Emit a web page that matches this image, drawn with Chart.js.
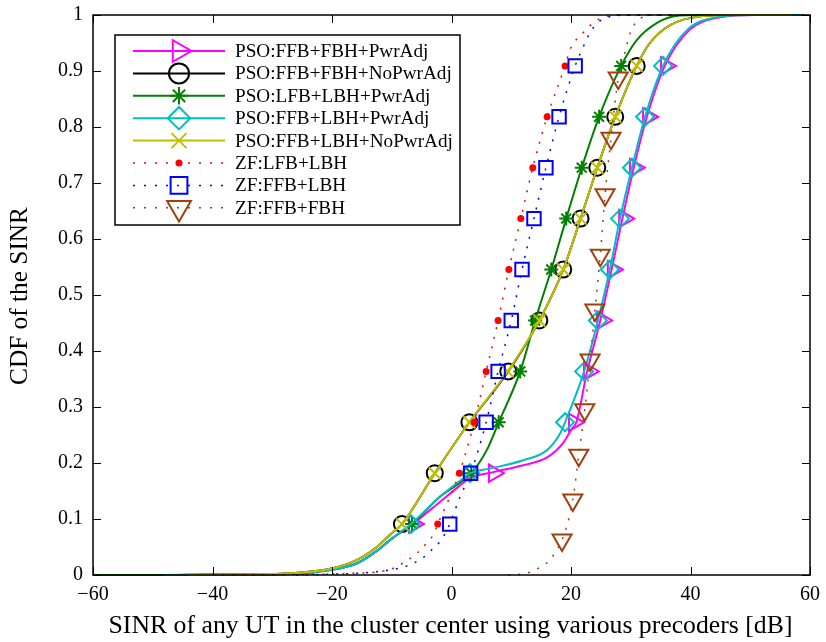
<!DOCTYPE html>
<html>
<head>
<meta charset="utf-8">
<script src="https://cdn.jsdelivr.net/npm/chart.js@4/dist/chart.umd.min.js"></script>
<style>
html,body{margin:0;padding:0;background:#ffffff;}
#wrap{width:826px;height:642px;position:relative;}
</style>
</head>
<body>
<div id="wrap"><canvas id="c" width="826" height="642"></canvas></div>
<script>
// ---------------- data ----------------
const SERIES_NAMES = [
  'PSO:FFB+FBH+PwrAdj',
  'PSO:FFB+FBH+NoPwrAdj',
  'PSO:LFB+LBH+PwrAdj',
  'PSO:FFB+LBH+PwrAdj',
  'PSO:FFB+LBH+NoPwrAdj',
  'ZF:LFB+LBH',
  'ZF:FFB+LBH',
  'ZF:FFB+FBH'
];
const X_TICKS = [-60, -40, -20, 0, 20, 40, 60];
const X_TICK_LABELS = ['\u221260', '\u221240', '\u221220', '0', '20', '40', '60'];
const Y_TICKS = [0, 0.1, 0.2, 0.3, 0.4, 0.5, 0.6, 0.7, 0.8, 0.9, 1];
const Y_TICK_LABELS = ['0', '0.1', '0.2', '0.3', '0.4', '0.5', '0.6', '0.7', '0.8', '0.9', '1'];
const X_TITLE = 'SINR of any UT in the cluster center using various precoders [dB]';
const Y_TITLE = 'CDF of the SINR';

// CDF levels where markers sit
const MARK_LEVELS = [0.0909, 0.1818, 0.2727, 0.3636, 0.4545, 0.5455, 0.6364, 0.7273, 0.8182, 0.9091];

// PSO:FFB+FBH+PwrAdj (magenta)
const magentaCurveX = [-46, -40, -27, -20.3, -15.8, -12.5, -10, -6.5, -2, 1.0, 3.1, 7.1, 12.0, 16.0, 18.7, 20.2, 20.9, 22.7, 24.9, 26.8, 28.6, 30.5, 32.7, 35.7, 39.8, 45, 51, 58];
const magentaCurveY = [0, 0.001, 0.002, 0.009, 0.021, 0.043, 0.065, 0.0909, 0.13, 0.156, 0.173, 0.184, 0.196, 0.21, 0.236, 0.262, 0.2727, 0.3636, 0.4545, 0.5455, 0.6364, 0.7273, 0.8182, 0.9091, 0.973, 0.996, 1, 1];
const magentaMarkX = [-6.3, 7.1, 20.5, 23.0, 25.2, 27.0, 28.9, 30.7, 32.9, 35.9];

// PSO:FFB+FBH+NoPwrAdj (black)
const blackCurveX = [-44, -35, -27, -20.3, -15.8, -12.5, -10.3, -8.3, -2.8, 3.0, 9.5, 14.7, 18.7, 21.6, 24.4, 27.4, 31.0, 33.2, 36.6, 42, 47, 57];
const blackCurveY = [0, 0.001, 0.003, 0.011, 0.027, 0.05, 0.072, 0.0909, 0.1818, 0.2727, 0.3636, 0.4545, 0.5455, 0.6364, 0.7273, 0.8182, 0.9091, 0.95, 0.982, 0.998, 1, 1];
const blackMarkX = [-8.3, -2.8, 3.0, 9.5, 14.7, 18.7, 21.6, 24.4, 27.4, 31.0];

// PSO:LFB+LBH+PwrAdj (green)
const greenCurveX = [-60, -48, -40, -27, -20.3, -15.8, -12.5, -10, -6.6, -1.9, 3.3, 5.9, 7.9, 11.5, 14.0, 16.7, 19.2, 21.8, 24.7, 28.4, 31, 34.4, 38.2, 42, 57];
const greenCurveY = [0, 0, 0.001, 0.002, 0.009, 0.021, 0.043, 0.065, 0.0909, 0.14, 0.1818, 0.223, 0.2727, 0.3636, 0.4545, 0.5455, 0.6364, 0.7273, 0.8182, 0.9091, 0.955, 0.986, 0.999, 1, 1];
const greenMarkX = [-6.6, 3.3, 7.9, 11.5, 14.0, 16.7, 19.2, 21.8, 24.7, 28.4];

// PSO:FFB+LBH+PwrAdj (cyan)
const cyanCurveX = [-48, -40, -27, -20.3, -15.8, -12.5, -10, -6.8, -1.9, 2.0, 3.1, 6.4, 12.0, 16.0, 18.2, 19.0, 22.2, 24.5, 26.5, 28.2, 30.2, 32.4, 35.4, 39.4, 44.4, 50, 59];
const cyanCurveY = [0, 0.001, 0.002, 0.009, 0.021, 0.043, 0.065, 0.0909, 0.14, 0.173, 0.1818, 0.19, 0.205, 0.223, 0.253, 0.2727, 0.3636, 0.4545, 0.5455, 0.6364, 0.7273, 0.8182, 0.9091, 0.973, 0.996, 1, 1];
const cyanMarkX = [-6.8, 3.1, 19.0, 22.2, 24.5, 26.5, 28.2, 30.2, 32.4, 35.4];

// PSO:FFB+LBH+NoPwrAdj (olive yellow)
const yellowCurveX = [-44, -35, -27, -20.3, -15.8, -12.5, -10.3, -8.3, -2.8, 3.0, 9.4, 14.7, 18.7, 21.6, 24.4, 27.4, 31.0, 33.2, 36.6, 42, 47, 57];
const yellowCurveY = [0, 0.001, 0.003, 0.011, 0.027, 0.05, 0.072, 0.0909, 0.1818, 0.2727, 0.3636, 0.4545, 0.5455, 0.6364, 0.7273, 0.8182, 0.9091, 0.95, 0.982, 0.998, 1, 1];
const yellowMarkX = [-8.3, -2.8, 3.0, 9.4, 14.7, 18.7, 21.6, 24.4, 27.4, 31.0];

// ZF:LFB+LBH (red dots)
const redCurveX = [-40, -16.5, -10.6, -9.0, -5.8, -4.4, -3.1, -2.3, 1.3, 3.8, 5.8, 7.8, 9.6, 11.6, 13.6, 16.0, 19.0, 19.8, 22.0, 24.0, 26.0, 28.0, 36];
const redCurveY = [0, 0.003, 0.009, 0.016, 0.039, 0.054, 0.071, 0.0909, 0.1818, 0.2727, 0.3636, 0.4545, 0.5455, 0.6364, 0.7273, 0.8182, 0.9091, 0.9375, 0.968, 0.988, 0.998, 1, 1];
const redMarkX = [-2.3, 1.3, 3.8, 5.8, 7.8, 9.6, 11.6, 13.6, 16.0, 19.0];

// ZF:FFB+LBH (blue squares)
const blueCurveX = [-26, -12.5, -7.8, -4.9, -3.3, -1.9, -0.3, 1.4, 3.2, 5.8, 7.8, 10.0, 11.8, 13.8, 15.8, 18.0, 20.7, 21.5, 23.7, 27.0, 31.0, 37];
const blueCurveY = [0, 0.006, 0.015, 0.03, 0.045, 0.06, 0.0909, 0.139, 0.1818, 0.2727, 0.3636, 0.4545, 0.5455, 0.6364, 0.7273, 0.8182, 0.9091, 0.93, 0.977, 0.998, 1, 1];
const blueMarkX = [-0.3, 3.2, 5.8, 7.8, 10.0, 11.8, 13.8, 15.8, 18.0, 20.7];

// ZF:FFB+FBH (brown down-triangles)
const brownCurveX = [9.5, 12, 13.1, 14.5, 16.5, 17.6, 18.5, 20.3, 21.3, 22.3, 23.2, 24.0, 24.9, 25.7, 26.7, 27.9, 29.0, 29.9, 31.0, 33.7, 40];
const brownCurveY = [0, 0.002, 0.005, 0.012, 0.027, 0.045, 0.0625, 0.134, 0.214, 0.295, 0.384, 0.473, 0.571, 0.679, 0.78, 0.8875, 0.932, 0.968, 0.988, 1, 1];
const brownMarkX = [18.5, 20.3, 21.3, 22.3, 23.2, 24.0, 24.9, 25.7, 26.7, 27.9];
const brownMarkY = [0.0625, 0.134, 0.214, 0.295, 0.384, 0.473, 0.571, 0.679, 0.78, 0.8875];

// ---------------- styling ----------------
const FAMILY = "'Liberation Serif', 'DejaVu Serif', serif";
function fitSize(text, target) {
  const c = document.createElement('canvas').getContext('2d');
  c.font = '100px ' + FAMILY;
  return 100 * target / c.measureText(text).width;
}
const TICK_SIZE = 20;
const LEGEND_SIZE = fitSize('PSO:FFB+FBH+NoPwrAdj', 217);
const XTITLE_SIZE = fitSize(X_TITLE, 684);
const YTITLE_SIZE = fitSize(Y_TITLE, 178);

const SERIES = [
  {cx: magentaCurveX, cy: magentaCurveY, mx: magentaMarkX, my: MARK_LEVELS, color: '#ff00ff', dash: [], width: 2, style: 'triangle', rot: 90, r: 10, filled: false},
  {cx: blackCurveX, cy: blackCurveY, mx: blackMarkX, my: MARK_LEVELS, color: '#000000', dash: [], width: 2, style: 'circle', rot: 0, r: 8, filled: false},
  {cx: greenCurveX, cy: greenCurveY, mx: greenMarkX, my: MARK_LEVELS, color: '#008000', dash: [], width: 2, style: 'star', rot: 0, r: 7, filled: false},
  {cx: cyanCurveX, cy: cyanCurveY, mx: cyanMarkX, my: MARK_LEVELS, color: '#00bfbf', dash: [], width: 2, style: 'rectRot', rot: 0, r: 9, filled: false},
  {cx: yellowCurveX, cy: yellowCurveY, mx: yellowMarkX, my: MARK_LEVELS, color: '#bfbf00', dash: [], width: 2, style: 'crossRot', rot: 0, r: 8.5, filled: false},
  {cx: redCurveX, cy: redCurveY, mx: redMarkX, my: MARK_LEVELS, color: '#ff0000', dash: [2, 8], width: 1.5, style: 'circle', rot: 0, r: 3.5, filled: true},
  {cx: blueCurveX, cy: blueCurveY, mx: blueMarkX, my: MARK_LEVELS, color: '#0000ff', dash: [2, 8], width: 1.5, style: 'rect', rot: 0, r: 9.5, filled: false},
  {cx: brownCurveX, cy: brownCurveY, mx: brownMarkX, my: brownMarkY, color: '#a0400c', dash: [2, 8], width: 1.5, style: 'triangle', rot: 180, r: 11, filled: false}
];

const datasets = [];
SERIES.forEach((s, i) => {
  datasets.push({
    label: SERIES_NAMES[i],
    data: s.cx.map((x, j) => ({x: x, y: s.cy[j]})),
    borderColor: s.color,
    borderWidth: s.width,
    borderDash: s.dash,
    pointRadius: 0,
    fill: false,
    cubicInterpolationMode: 'monotone',
    clip: false,
    order: 100 - 2 * i
  });
  datasets.push({
    label: SERIES_NAMES[i] + ' markers',
    data: s.mx.map((x, j) => ({x: x, y: s.my[j]})),
    showLine: false,
    pointStyle: s.style,
    pointRotation: s.rot,
    pointRadius: s.r,
    pointBorderColor: s.color,
    pointBackgroundColor: s.filled ? s.color : 'rgba(0,0,0,0)',
    pointBorderWidth: s.filled ? 0 : 2,
    clip: false,
    order: 99 - 2 * i
  });
});

function drawMarker(ctx, s, x, y, scale) {
  ctx.save();
  ctx.strokeStyle = s.color;
  ctx.fillStyle = s.filled ? s.color : 'rgba(0,0,0,0)';
  ctx.lineWidth = 2;
  ctx.setLineDash([]);
  const opts = {pointStyle: s.style, rotation: s.rot, radius: s.r * scale, borderWidth: s.filled ? 0 : 2};
  if (Chart.helpers && Chart.helpers.drawPoint) {
    Chart.helpers.drawPoint(ctx, opts, x, y);
  }
  ctx.restore();
}

const framePlugin = {
  id: 'frame',
  afterDraw(chart) {
    const ctx = chart.ctx;
    const a = chart.chartArea;
    const xs = chart.scales.x, ys = chart.scales.y;
    ctx.save();
    ctx.strokeStyle = '#000';
    ctx.setLineDash([]);
    ctx.lineWidth = 1;
    ctx.beginPath();
    X_TICKS.forEach(v => {
      const px = Math.round(xs.getPixelForValue(v)) + 0.5;
      ctx.moveTo(px, a.bottom); ctx.lineTo(px, a.bottom - 8);
      ctx.moveTo(px, a.top); ctx.lineTo(px, a.top + 8);
    });
    Y_TICKS.forEach(v => {
      const py = Math.round(ys.getPixelForValue(v)) + 0.5;
      ctx.moveTo(a.left, py); ctx.lineTo(a.left + 8, py);
      ctx.moveTo(a.right, py); ctx.lineTo(a.right - 8, py);
    });
    ctx.stroke();
    ctx.lineWidth = 1.5;
    ctx.strokeRect(a.left, a.top, a.right - a.left, a.bottom - a.top);

    // axis titles
    ctx.fillStyle = '#000';
    ctx.textAlign = 'center';
    ctx.textBaseline = 'middle';
    ctx.font = XTITLE_SIZE.toFixed(2) + 'px ' + FAMILY;
    ctx.fillText(X_TITLE, (a.left + a.right) / 2 - 1, 626);
    ctx.save();
    ctx.translate(20, 296);
    ctx.rotate(-Math.PI / 2);
    ctx.font = YTITLE_SIZE.toFixed(2) + 'px ' + FAMILY;
    ctx.fillText(Y_TITLE, 0, 0);
    ctx.restore();

    // legend
    const bx = 115, by = 35, bw = 345, bh = 190;
    ctx.fillStyle = '#fff';
    ctx.fillRect(bx, by, bw, bh);
    ctx.lineWidth = 1.5;
    ctx.strokeStyle = '#000';
    ctx.strokeRect(bx, by, bw, bh);
    ctx.font = LEGEND_SIZE.toFixed(2) + 'px ' + FAMILY;
    ctx.textAlign = 'left';
    ctx.textBaseline = 'middle';
    SERIES.forEach((s, i) => {
      const ry = 51 + i * 22.4;
      ctx.save();
      ctx.strokeStyle = s.color;
      ctx.lineWidth = s.width;
      ctx.setLineDash(s.dash.length ? [2, 9] : []);
      ctx.beginPath();
      ctx.moveTo(133, ry); ctx.lineTo(225, ry);
      ctx.stroke();
      ctx.restore();
      drawMarker(ctx, s, 179, ry, s.filled ? 1.0 : 1.25);
      ctx.fillStyle = '#000';
      ctx.fillText(SERIES_NAMES[i], 235, ry + 1);
    });
    ctx.restore();
  }
};

new Chart(document.getElementById('c'), {
  type: 'line',
  data: {datasets: datasets},
  options: {
    responsive: false,
    animation: false,
    devicePixelRatio: 1,
    events: [],
    layout: {padding: {top: 15, right: 16, left: 0, bottom: 0}},
    plugins: {legend: {display: false}, tooltip: {enabled: false}, title: {display: false}},
    scales: {
      x: {
        type: 'linear', min: -60, max: 60,
        afterBuildTicks: sc => { sc.ticks = X_TICKS.map(v => ({value: v})); },
        afterFit: sc => { sc.height = 67; sc.paddingLeft = 0; sc.paddingRight = 0; },
        grid: {display: false, drawTicks: false},
        border: {display: false},
        ticks: {
          autoSkip: false, maxRotation: 0, padding: 8, color: '#000',
          font: {family: FAMILY, size: TICK_SIZE},
          callback: v => X_TICK_LABELS[X_TICKS.indexOf(v)]
        }
      },
      y: {
        type: 'linear', min: 0, max: 1,
        afterBuildTicks: sc => { sc.ticks = Y_TICKS.map(v => ({value: v})); },
        afterFit: sc => { sc.width = 93; sc.paddingTop = 0; sc.paddingBottom = 0; },
        grid: {display: false, drawTicks: false},
        border: {display: false},
        ticks: {
          autoSkip: false, padding: 10, color: '#000',
          font: {family: FAMILY, size: TICK_SIZE},
          callback: v => { const k = Y_TICKS.findIndex(t => Math.abs(t - v) < 1e-9); return Y_TICK_LABELS[k]; }
        }
      }
    }
  },
  plugins: [framePlugin]
});
</script>
</body>
</html>
